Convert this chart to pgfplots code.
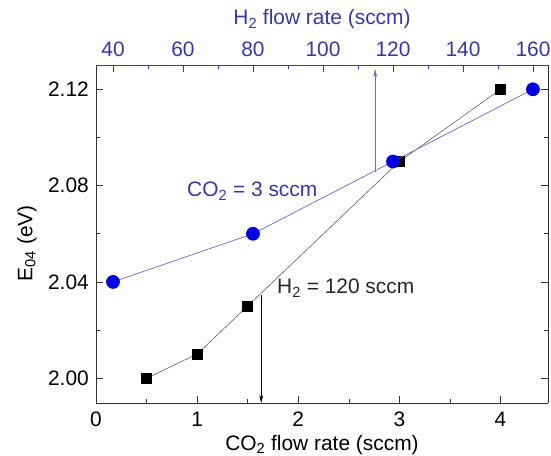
\documentclass[border=0pt]{standalone}
\usepackage{pgfplots}
\pgfplotsset{compat=1.18}
\usepackage{fontspec}
\setmainfont{Liberation Sans}
\usetikzlibrary{arrows.meta}
\definecolor{mkblue}{RGB}{0,0,225}
\definecolor{txtblue}{RGB}{55,55,165}
\definecolor{lnblue}{RGB}{105,105,200}
\definecolor{lngray}{RGB}{95,95,95}
\definecolor{axgray}{RGB}{50,50,50}
\begin{document}
\fontsize{21}{25}\selectfont
\begin{tikzpicture}
\useasboundingbox (-96bp,-53bp) rectangle (455bp,403bp);
\pgfplotsset{
  every axis/.append style={
    scale only axis, width=452bp, height=338bp,
    at={(0,0)}, anchor=south west,
    tick align=inside,
    major tick length=7bp, minor tick length=4bp,
    /pgf/number format/assume math mode=true,
    tick label style={font=\fontsize{21}{25}\selectfont},
    label style={font=\fontsize{21}{25}\selectfont},
  }
}
% bottom / left axis (CO2)
\begin{axis}[
  xmin=0, xmax=4.47, ymin=1.9897, ymax=2.1301,
  axis x line*=bottom, axis y line*=box,
  axis line style={axgray, line width=0.8pt},
  every tick/.style={axgray, line width=0.6pt},
  xtick={0,1,2,3,4}, minor x tick num=1,
  ytick={2.00,2.04,2.08,2.12}, minor y tick num=1,
  yticklabel style={/pgf/number format/.cd, fixed, fixed zerofill, precision=2},
  xticklabel style={inner sep=0pt, anchor=north, yshift=-9bp},
  xlabel={CO\textsubscript{2} flow rate (sccm)},
  xlabel style={inner sep=0pt, at={(axis description cs:0.5,0)}, anchor=base, yshift=-47bp},
  ylabel={E\textsubscript{04} (eV)},
  ylabel style={at={(axis description cs:-0.153,0.473)}, anchor=center},
]
\addplot[lngray, line width=0.6pt, mark=square*, mark size=5bp,
  mark options={fill=black, draw=black}]
  coordinates {(0.5,2.00) (1.0,2.01) (1.5,2.03) (3.0,2.09) (4.0,2.12)};
\addplot[black, line width=0.7pt, -{Stealth[length=8bp,width=4bp]}]
  coordinates {(1.634,2.0346) (1.634,1.9897)};
\node[anchor=base west, inner sep=0pt, text=black!85] at (axis cs:1.79,2.035)
  {H\textsubscript{2} = 120 sccm};
\node[anchor=base west, inner sep=0pt, text=txtblue] at (axis cs:0.90,2.0753)
  {CO\textsubscript{2} = 3 sccm};
\end{axis}
% top axis (H2)
\begin{axis}[
  xmin=35.14, xmax=164.3, ymin=1.9897, ymax=2.1301,
  axis x line*=top, axis y line=none,
  axis line style={txtblue, line width=0.8pt},
  every tick/.style={txtblue, line width=0.6pt},
  xtick={40,60,...,160}, minor x tick num=1,
  xticklabel style={text=txtblue, yshift=1bp},
  xlabel={H\textsubscript{2} flow rate (sccm)},
  xlabel style={text=txtblue, at={(axis description cs:0.5,1)}, anchor=base, yshift=40bp},
]
\addplot[lnblue, line width=0.7pt, -{Stealth[length=8bp,width=4bp]}]
  coordinates {(114.9,2.0858) (114.9,2.1284)};
\addplot[lnblue, line width=0.7pt, mark=*, mark size=6.5bp,
  mark options={fill=mkblue, draw=mkblue}]
  coordinates {(40,2.04) (80,2.06) (120,2.09) (160,2.12)};
\end{axis}
\end{tikzpicture}
\end{document}
